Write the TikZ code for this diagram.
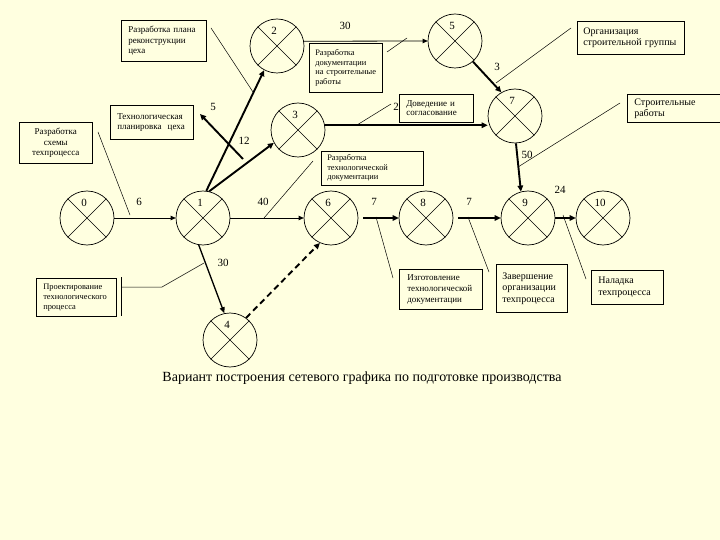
\documentclass[tikz,border=0pt]{standalone}
\usepackage{fontspec}
\setmainfont{Liberation Serif}
\usetikzlibrary{calc,arrows.meta}
\definecolor{bg}{RGB}{255,255,224}
\tikzset{
 ev/.style={circle,draw,line width=0.7pt,minimum size=54pt,inner sep=0pt},
 xl/.style={line width=0.5pt},
 num/.style={font=\fontsize{11}{11}\selectfont,inner sep=0pt},
 lbl/.style={font=\fontsize{11}{11}\selectfont,inner sep=0pt},
 box/.style={draw,line width=0.6pt,anchor=north west,align=left,inner xsep=7pt,inner ysep=3pt},
 thinarrow/.style={line width=0.8pt,-{Triangle[length=5pt,width=4.5pt]}},
 midarrow/.style={line width=1.3pt,-{Triangle[length=6pt,width=5pt]}},
 thickarrow/.style={line width=1.9pt,-{Triangle[length=6pt,width=5.5pt]}},
 leader/.style={line width=0.5pt},
}
\newcommand\evnt[3]{%
 \node[ev] (n#1) at (#2) {};
 \draw[xl] (n#1.45) -- (n#1.225) (n#1.135) -- (n#1.315);
 \node[num] (t#1) at ($(n#1)+(-3,-15)$) {#3};}
\begin{document}
\begin{tikzpicture}[x=1pt,y=-1pt]
\fill[bg] (0,0) rectangle (720,540);
\useasboundingbox (0,0) rectangle (720,540);
% events
\evnt{0}{87,218}{0}
\evnt{1}{203,218}{1}
\evnt{6}{331,218}{6}
\evnt{8}{426,218}{8}
\evnt{9}{528,218}{9}
\evnt{10}{603,218}{10}
\evnt{4}{230,340}{4}
\evnt{2}{277,46}{2}
\evnt{5}{455,41}{5}
\evnt{3}{298,130}{3}
\evnt{7}{515,116}{7}
% activities
\draw[thinarrow] (n0) -- (n1);
\draw[thinarrow] (n1) -- (n6);
\draw[thickarrow,shorten <=5pt] (n6) -- (n8);
\draw[thickarrow,shorten <=5pt] (n8) -- (n9);
\draw[thickarrow] (n9) -- (n10);
\draw[midarrow] (n1.-99) -- (n4.102);
\draw[thickarrow,dash pattern=on 6pt off 4pt] (n4.54) -- (n6.246);
\draw[thickarrow] (n1.77) -- (n3.208);
\draw[thickarrow] (n1.83) -- (n2.242);
\draw[thinarrow] (n2.10) -- (n5.west);
\draw[thickarrow] (n5.-49) -- (n7.120);
\draw[thickarrow] (n3.10) -- (n3.10 -| n7.west);
\draw[thickarrow] (n7.-88) -- (n9.105);
\coordinate (a5s) at (243,159);
\coordinate (a5e) at (200,114);
\draw[thickarrow] (a5s) -- (a5e);
% durations
\node[lbl] (d01) at (139,202) {6};
\node[lbl] (d16) at (263,202) {40};
\node[lbl] (d68) at (374,202) {7};
\node[lbl] (d89) at (469,202) {7};
\node[lbl] (d910) at (560,190) {24};
\node[lbl] (d14) at (223,263) {30};
\node[lbl] (d13) at (244,141) {12};
\node[lbl] (d5) at (213,107) {5};
\node[lbl] (d25) at (345,26) {30};
\node[lbl] (d57) at (497,67) {3};
\node[lbl] (d37) at (396,107) {2};
\node[lbl] (d79) at (527,155) {50};
% callout boxes
\node[box,text width=71pt,minimum height=41pt,font=\fontsize{9}{10.5}\selectfont] (b1) at (121,20) {Разработка плана\\реконструкции\\цеха};
\node[box,text width=69pt,minimum height=34pt,font=\fontsize{9}{10.5}\selectfont] (b2) at (110,105) {Технологическая\\планировка\ \ цеха};
\node[box,text width=59pt,minimum height=41pt,align=center,inner xsep=7pt,font=\fontsize{9}{10.5}\selectfont] (b3) at (19,122) {Разработка\\схемы\\техпроцесса};
\node[box,text width=61pt,minimum height=49pt,inner xsep=6pt,font=\fontsize{8.4}{9.7}\selectfont] (b4) at (309,43) {Разработка\\документации\\на строительные\\работы};
\node[box,text width=95pt,minimum height=33pt,inner xsep=6pt,font=\fontsize{10}{11}\selectfont] (b5) at (577,21) {Организация\\строительной группы};
\node[box,text width=60pt,minimum height=28pt,font=\fontsize{9}{9.5}\selectfont] (b6) at (399,94) {Доведение и\\согласование};
\node[box,text width=80pt,minimum height=28pt,font=\fontsize{10}{11}\selectfont] (b7) at (627,94) {Строительные\\работы};
\node[box,text width=90pt,minimum height=34pt,inner xsep=6pt,font=\fontsize{8.4}{9.5}\selectfont] (b8) at (321,151) {Разработка\\технологической\\документации};
\node[box,text width=66pt,minimum height=38pt,font=\fontsize{8.4}{10}\selectfont] (b9) at (36,278) {Проектирование\\технологического\\процесса};
\node[box,text width=67pt,minimum height=40pt,inner xsep=8pt,font=\fontsize{9}{11}\selectfont] (b10) at (399,269) {Изготовление\\технологической\\документации};
\node[box,text width=59pt,minimum height=48pt,inner xsep=6pt,font=\fontsize{10}{11.5}\selectfont] (b11) at (496,264) {Завершение\\организации\\техпроцесса};
\node[box,text width=58pt,minimum height=34pt,inner xsep=7pt,font=\fontsize{10}{12}\selectfont] (b12) at (591,270) {Наладка\\техпроцесса};
% leaders
\coordinate (c1a) at (211,28);  \coordinate (c1b) at (253,92);
\draw[leader] (c1a) -- (c1b);
\coordinate (c3a) at (98,132);  \coordinate (c3b) at (130,215);
\draw[leader] (c3a) -- (c3b);
\coordinate (c4a) at (387,52);  \coordinate (c4b) at (407,38);
\draw[leader] (c4a) -- (c4b);
\coordinate (c5a) at (571,28);  \coordinate (c5b) at (496,83);
\draw[leader] (c5a) -- (c5b);
\coordinate (c6a) at (357,125); \coordinate (c6b) at (391,104);
\draw[leader] (c6a) -- (c6b);
\coordinate (c7a) at (620,103); \coordinate (c7b) at (518,167);
\draw[leader] (c7a) -- (c7b);
\coordinate (c8a) at (313,161); \coordinate (c8b) at (264,218);
\draw[leader] (c8a) -- (c8b);
\coordinate (c9t) at (121,277); \coordinate (c9u) at (121,316);
\draw[leader] (c9t) -- (c9u);
\coordinate (c9a) at (121,287); \coordinate (c9m) at (162,287); \coordinate (c9b) at (204,263);
\draw[leader] (c9a) -- (c9m) -- (c9b);
\coordinate (c10a) at (393,278); \coordinate (c10b) at (376,217);
\draw[leader] (c10a) -- (c10b);
\coordinate (c11a) at (489,272); \coordinate (c11b) at (468,217);
\draw[leader] (c11a) -- (c11b);
\coordinate (c12a) at (586,279); \coordinate (c12b) at (563,215);
\draw[leader] (c12a) -- (c12b);
% caption
\node[inner sep=0pt,font=\fontsize{14}{16}\selectfont] (cap) at (362,378) {Вариант построения сетевого графика по подготовке производства};
\end{tikzpicture}
\end{document}
